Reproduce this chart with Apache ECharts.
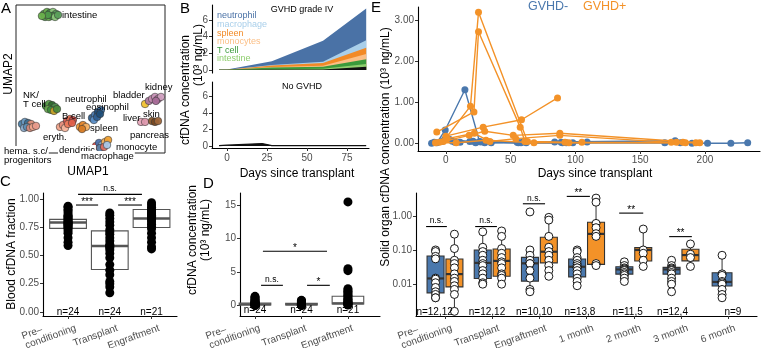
<!DOCTYPE html>
<html><head><meta charset="utf-8">
<script src="https://cdn.jsdelivr.net/npm/echarts@6/dist/echarts.min.js"></script>
<style>html,body{margin:0;padding:0;background:#fff}#c{width:763px;height:348px}</style>
</head><body><div id="c"></div>
<script>
// ================= DATA =================
// Panel A : UMAP clusters (arbitrary UMAP units 0-100)
const umapIntestine = [[18.8,94.0],[20.8,95.3],[22.8,94.6],[24.8,95.3],[26.8,94.0],[19.5,91.9],[22.1,91.9],[24.2,92.6],[26.2,91.9],[28.2,93.3],[21.5,93.3],[17.4,92.6]];
const umapTcell = [[20.1,31.8],[22.1,33.1],[24.2,32.4],[26.2,31.1],[21.5,29.7],[23.5,29.1],[25.5,28.4],[27.5,29.7]];
const umapHema = [[4.0,19.6],[6.0,21.0],[8.1,20.3],[10.1,19.6],[5.4,16.9],[7.4,17.6],[9.4,16.9],[11.4,17.6],[13.4,18.3]];
const umapEryth = [[29.5,17.6],[31.5,18.9],[32.9,16.9]];
const umapBcell = [[34.2,21.6],[36.2,23.0],[38.2,22.3],[34.9,19.6],[37.6,20.3]];
const umapNeutro = [[51.0,23.7],[53.0,25.7],[55.0,27.7],[57.0,29.1],[52.3,22.3],[54.4,24.3],[56.4,26.4]];
const umapSpleen = [[42.9,17.6],[44.9,18.9],[47.0,17.6],[44.3,16.2]];
const umapMyeloid = [[53.7,4.7],[55.7,6.8],[57.7,5.4],[59.7,7.4],[61.8,8.8],[56.4,3.4],[59.1,4.1],[61.1,5.4]];
const umapBladderKidney = [[86.6,33.1],[89.2,35.2],[91.3,36.5],[93.3,37.9],[95.3,36.5],[97.3,37.9],[93.9,35.2]];
const umapLiver = [[83.9,21.0],[86.6,21.0]];
const umapSkin = [[91.3,21.6],[93.3,21.0],[95.3,21.6]];
const umapLabels = ['intestine','NK/','T cell','neutrophil','eosinophil','bladder','kidney','B cell','liver','skin','spleen','eryth.','pancreas','hema. s.c/','progenitors','dendritic','monocyte','macrophage'];

// Panel B : stacked tissue-of-origin cfDNA (10^3 ng/mL)
const bDaysGvhd = [-5, 0, 28, 60, 87];
const bOther      = [0.02, 0.02, 0.05, 0.05, 0.40];
const bIntestine  = [0.005, 0.005, 0.05, 0.10, 0.32];
const bTcell      = [0.005, 0.005, 0.20, 0.25, 0.56];
const bMonocytes  = [0.005, 0.005, 0.05, 0.10, 0.64];
const bSpleen     = [0.005, 0.005, 0.20, 0.35, 0.76];
const bMacrophage = [0.005, 0.005, 0.05, 0.15, 0.90];
const bNeutrophil = [0.02, 0.02, 0.45, 2.50, 3.80];
const bDaysNo = [-5, 0, 22, 28, 60, 87];
const bNoTotal = [0.05, 0.10, 0.30, 0.05, 0.05, 0.05];
const bTicks = [0, 25, 50, 75];
const bYTicks = [0, 2, 4, 6];

// Panel C : blood cfDNA fraction
const cCats = ['Pre–\nconditioning', 'Transplant', 'Engraftment'];
const cPre = [0.94,0.93,0.91,0.90,0.88,0.86,0.85,0.84,0.83,0.82,0.81,0.80,0.79,0.79,0.78,0.77,0.76,0.75,0.74,0.72,0.70,0.66,0.62,0.59];
const cTransplant = [0.88,0.86,0.83,0.80,0.77,0.73,0.71,0.69,0.66,0.63,0.60,0.59,0.58,0.57,0.55,0.52,0.48,0.42,0.37,0.33,0.27,0.25,0.22,0.17];
const cEngraft = [0.97,0.95,0.93,0.91,0.90,0.88,0.87,0.86,0.85,0.84,0.83,0.82,0.80,0.78,0.76,0.74,0.70,0.66,0.62,0.58,0.56];
const cBoxStats = [[0.70,0.742,0.795,0.822,0.94],[0.17,0.377,0.585,0.72,0.88],[0.62,0.75,0.83,0.91,0.97]];
const cN = ['n=24','n=24','n=21'];
const cYTicks = [0, 0.25, 0.5, 0.75, 1];
const cSig = [[1.19,1.72,0.95],[2.20,2.77,0.95],[1.24,2.77,1.045]];
const cSigText = ['***','***','n.s.'];

// Panel D : cfDNA concentration
const dPre = [1.35,1.2,1.0,0.9,0.75,0.6,0.5,0.45,0.4,0.35,0.3,0.28,0.25,0.2,0.18,0.15,0.12,0.1,0.08,0.06,0.05,0.03,0.02,0.01];
const dTransplant = [0.75,0.7,0.6,0.55,0.5,0.45,0.4,0.35,0.3,0.28,0.25,0.22,0.2,0.18,0.15,0.12,0.1,0.08,0.06,0.05,0.04,0.03,0.02,0.01];
const dEngraft = [15.5,5.5,5.2,2.5,2.3,2.1,1.9,1.7,1.5,1.3,1.1,0.9,0.8,0.6,0.5,0.4,0.3,0.2,0.15,0.1,0.05];
const dBoxStats = [[0,0.05,0.15,0.35,0.8],[0,0.05,0.15,0.3,0.75],[0,0.2,0.3,1.35,2.5]];
const dN = ['n=24','n=24','n=21'];
const dYTicks = [0, 5, 10, 15];
const dSig = [[1.13,1.60,3.0],[2.12,2.61,3.0],[1.17,2.55,8.1]];
const dSigText = ['n.s.','*','*'];

// Panel E (top) : longitudinal solid organ cfDNA per patient
const eNegDays = [[-7,-0.5,14.7,26,56,89,181],[-11,3,18.5,30,62,93,169,202,220,233],[-3,7,21,55,84,177,190],[-1,11,27,58,98,109],[-9,5,23,35,60,90]];
const eNegVals = [[0.02,0.33,1.31,0.05,0.02,0.03,0.02],[0.01,0.10,0.05,0.02,0.02,0.02,0.02,0.01,0.01,0.02],[0.05,0.03,0.06,0.03,0.04,0.07,0.01],[0.10,0.03,0.04,0.02,0.02,0.04],[0.03,0.06,0.02,0.02,0.05,0.02]];
const ePosDays = [[-2,19,25.2,63,95,178],[-7,21.7,25.2,57.4,61,92,193],[0,28.8,58.4,86.2],[-5,18,30,52,88,196],[1,22,34,54,88,174,183],[-8,8,31,68,105,185]];
const ePosVals = [[0.05,0.91,3.19,0.05,0.02,0.03],[0.28,0.77,2.72,0.40,0.05,0.03,0.02],[0.18,0.40,0.58,1.11],[0.03,0.20,0.30,0.20,0.25,0.02],[0.12,0.25,0.05,0.12,0.20,0.03,0.03],[0.02,0.02,0.08,0.02,0.03,0.02]];
const eXTicks = [0, 50, 100, 150, 200];
const eYTicks = [0, 1, 2, 3];

// Panel E (bottom) : solid organ cfDNA by timepoint (log scale)
const eCats = ['Pre–\nconditioning','Transplant','Engraftment','1 month','2 month','3 month','6 month'];
const eNegPts = [[0.10,0.09,0.065,0.055,0.015,0.014,0.011,0.008,0.006,0.005,0.004,0.004],
  [0.34,0.12,0.09,0.07,0.05,0.04,0.035,0.025,0.02,0.015,0.011,0.01],
  [1.3,0.1,0.07,0.05,0.04,0.04,0.025,0.015,0.007,0.006],
  [0.1,0.09,0.06,0.05,0.04,0.035,0.03,0.03,0.025,0.02,0.015,0.012,0.009],
  [0.045,0.035,0.03,0.028,0.026,0.025,0.022,0.02,0.018,0.015,0.012],
  [0.05,0.035,0.03,0.028,0.026,0.025,0.022,0.02,0.015,0.012,0.01,0.006],
  [0.07,0.02,0.018,0.012,0.011,0.01,0.007,0.005,0.004]];
const ePosPts = [[0.29,0.11,0.05,0.04,0.03,0.02,0.015,0.012,0.009,0.007,0.005,0.0016],
  [0.36,0.25,0.11,0.08,0.06,0.045,0.04,0.03,0.02,0.018,0.015,0.01],
  [0.9,0.75,0.25,0.12,0.09,0.07,0.05,0.035,0.025,0.017],
  [3.3,2.5,0.6,0.45,0.3,0.25,0.04,0.035],
  [0.41,0.1,0.08,0.05,0.033],
  [0.15,0.075,0.06,0.033],
  []];
const eNegBox = [[0.0038,0.00556,0.0147,0.0667,0.105],[0.0105,0.0147,0.042,0.1,0.345],[0.0056,0.0123,0.0407,0.0609,0.1],[0.0083,0.0163,0.0323,0.0545,0.1],[0.0116,0.0197,0.027,0.0323,0.045],[0.0059,0.0197,0.027,0.0309,0.053],[0.0038,0.0088,0.0116,0.0215,0.071]];
const ePosBox = [[0.0016,0.0083,0.0197,0.0545,0.29],[0.0098,0.017,0.048,0.107,0.36],[0.017,0.042,0.089,0.236,0.95],[0.037,0.038,0.296,0.65,3.3],[0.0323,0.0475,0.1,0.117,0.41],[0.033,0.048,0.071,0.105,0.15],null];
const eN = ['n=12,12','n=12,12','n=10,10','n=13,8','n=11,5','n=12,4','n=9'];
const eNPos = [0.78, 1.89, 2.89, 3.86, 4.87, 5.82, 7.1];
const eLogTicks = [0.01, 0.1, 1];
const eSig = [[0.60,1.04,0.485],[1.64,2.10,0.485],[2.65,3.12,2.25],[3.58,4.07,3.7],[4.69,5.2,1.2],[5.75,6.23,0.246]];
const eSigText = ['n.s.','n.s.','n.s.','**','**','**'];

// ================= STYLE =================
const F = '"Liberation Sans", Arial, Helvetica, sans-serif';
const BLUE = '#4a78ad', ORANGE = '#f39228';
const GRAY = '#4d4d4d';

const chart = echarts.init(document.getElementById('c'), null, {renderer: 'canvas'});
const mctx = document.createElement('canvas').getContext('2d');
function textW(s, size) { mctx.font = size + 'px ' + F; return mctx.measureText(s).width; }

function vAxis(grid, o) {
  const base = {
    type: 'value', gridIndex: grid, splitLine: {show: false},
    axisLine: {show: true, onZero: false, lineStyle: {color: '#000', width: 1.1}},
    axisTick: {show: true, length: 3, lineStyle: {color: '#333', width: 1}},
    axisLabel: {color: GRAY, fontSize: 10, fontFamily: F, margin: 4, showMinLabel: true, showMaxLabel: true}
  };
  const r = Object.assign(base, o);
  if (o.ticks) {
    r.axisTick = Object.assign({}, base.axisTick, {customValues: o.ticks});
    r.axisLabel = Object.assign({}, base.axisLabel, {customValues: o.ticks}, o.labelExtra || {});
    delete r.ticks; delete r.labelExtra;
  }
  return r;
}

// rotated category labels (20°): last line's top-right at the tick, earlier lines stacked above, left-aligned
function catLabelSeries(xi, yi, cats, yBottom, dx, dy) {
  const th = 20 * Math.PI / 180, LH = 10;
  return {
    type: 'custom', xAxisIndex: xi, yAxisIndex: yi, data: cats.map((c, i) => [i + 1, yBottom]), z: 6, silent: true, clip: false,
    encode: {x: 0, y: 1},
    renderItem: function (params, api) {
      const p = api.coord([api.value(0), api.value(1)]);
      const lines = cats[params.dataIndex].split('\n');
      const L = lines.length;
      const wLast = textW(lines[L - 1], 10);
      const ax = p[0] + dx, ay = p[1] + dy;
      const sx = ax - wLast * Math.cos(th), sy = ay + wLast * Math.sin(th);
      return {type: 'group', children: lines.map((s, k) => ({
        type: 'text', x: sx + (k - L + 1) * LH * Math.sin(th), y: sy + (k - L + 1) * LH * Math.cos(th), rotation: th,
        style: {text: s, fill: GRAY, fontSize: 10, fontFamily: F, align: 'left', verticalAlign: 'top'}
      }))};
    }
  };
}

function boxSeries(xi, yi, items, fills, stroke, mw) {
  return {
    type: 'custom', xAxisIndex: xi, yAxisIndex: yi, data: items, z: 2, silent: true,
    encode: {x: 0, y: [1, 5]},
    renderItem: function (params, api) {
      const x = api.value(0), hw = api.value(7), g = api.value(6);
      const pTL = api.coord([x - hw, api.value(4)]);
      const pBR = api.coord([x + hw, api.value(2)]);
      const pMin = api.coord([x, api.value(1)]);
      const pMax = api.coord([x, api.value(5)]);
      const pMed = api.coord([x, api.value(3)]);
      const cx = pMin[0];
      return {type: 'group', children: [
        {type: 'line', shape: {x1: cx, y1: pMax[1], x2: cx, y2: pTL[1]}, style: {stroke: stroke, lineWidth: 1}},
        {type: 'line', shape: {x1: cx, y1: pBR[1], x2: cx, y2: pMin[1]}, style: {stroke: stroke, lineWidth: 1}},
        {type: 'rect', shape: {x: pTL[0], y: pTL[1], width: pBR[0] - pTL[0], height: pBR[1] - pTL[1]}, style: {fill: fills[g], stroke: stroke, lineWidth: 1.1}},
        {type: 'line', shape: {x1: pTL[0], y1: pMed[1], x2: pBR[0], y2: pMed[1]}, style: {stroke: stroke, lineWidth: mw}}
      ]};
    }
  };
}

function textSeries(xi, yi, pts, texts, size) {
  return {
    type: 'custom', xAxisIndex: xi, yAxisIndex: yi, data: pts, z: 6, silent: true, encode: {x: 0, y: 1},
    renderItem: function (params, api) {
      const p = api.coord([api.value(0), api.value(1)]);
      return {type: 'text', x: p[0], y: p[1], style: {text: texts[params.dataIndex], fill: '#000', fontSize: size, fontFamily: F, align: 'center', verticalAlign: 'middle'}};
    }
  };
}

function sigSeries(xi, yi, items, texts) {
  return {
    type: 'custom', xAxisIndex: xi, yAxisIndex: yi, data: items, z: 6, silent: true, encode: {x: [0, 1], y: 2},
    renderItem: function (params, api) {
      const a = api.coord([api.value(0), api.value(2)]);
      const b = api.coord([api.value(1), api.value(2)]);
      const t = texts[params.dataIndex];
      const star = t.indexOf('*') >= 0;
      return {type: 'group', children: [
        {type: 'line', shape: {x1: a[0], y1: a[1], x2: b[0], y2: b[1]}, style: {stroke: '#000', lineWidth: 1.1}},
        {type: 'text', x: (a[0] + b[0]) / 2, y: a[1] + (star ? 2 : -1), style: {text: t, fill: '#000', fontSize: star ? 10 : 8.5, fontFamily: F, align: 'center', verticalAlign: 'bottom'}}
      ]};
    }
  };
}

function scatter(xi, yi, data, color, border, size) {
  return {type: 'scatter', xAxisIndex: xi, yAxisIndex: yi, data: data, symbolSize: size, z: 4, silent: true,
    itemStyle: {color: color, borderColor: border, borderWidth: border ? 0.9 : 0, opacity: 1}};
}

// ================= GRIDS =================
const grids = [
  {left: 16, top: 5, width: 149, height: 148, show: true, borderColor: '#222', borderWidth: 1, backgroundColor: 'transparent'}, // A
  {left: 212, top: 5, width: 157, height: 68},   // B top
  {left: 212, top: 82, width: 157, height: 66},  // B bottom
  {left: 43, top: 193, width: 134, height: 123}, // C
  {left: 240, top: 193, width: 140, height: 123},// D
  {left: 418, top: 7, width: 342, height: 144},  // E top
  {left: 416, top: 193, width: 341, height: 123} // E bottom
];
const C_YMIN = -0.037, D_YMIN = -1.6, E_YMIN = 0.00117;

const xAxes = [
  {type: 'value', gridIndex: 0, min: 0, max: 100, show: false},
  vAxis(1, {min: -9.4, max: 88.75, show: false}),
  vAxis(2, {min: -9.4, max: 88.75, ticks: bTicks, labelExtra: {margin: 5}}),
  vAxis(3, {min: 0.4, max: 3.61, ticks: [1, 2, 3], labelExtra: {show: false}}),
  vAxis(4, {min: 0.677, max: 3.69, ticks: [1, 2, 3], labelExtra: {show: false}}),
  vAxis(5, {min: -21.5, max: 242.5, ticks: eXTicks, labelExtra: {margin: 4}}),
  vAxis(6, {min: 0.386, max: 7.61, ticks: [1, 2, 3, 4, 5, 6, 7], labelExtra: {show: false}})
];
const yAxes = [
  {type: 'value', gridIndex: 0, min: 0, max: 100, show: false},
  vAxis(1, {min: -0.36, max: 7.8, ticks: bYTicks}),
  vAxis(2, {min: -0.24, max: 7.76, ticks: bYTicks}),
  vAxis(3, {min: C_YMIN, max: 1.057, ticks: cYTicks, labelExtra: {formatter: v => v.toFixed(2)}}),
  vAxis(4, {min: D_YMIN, max: 16.84, ticks: dYTicks}),
  vAxis(5, {min: -0.18, max: 3.32, ticks: eYTicks, labelExtra: {formatter: v => v.toFixed(2)}}),
  vAxis(6, {type: 'log', logBase: 10, min: E_YMIN, max: 4.65, ticks: eLogTicks, labelExtra: {formatter: v => Number(v).toFixed(2)}})
];

// ================= SERIES =================
const series = [];
// A
const umapGroups = [
  [umapIntestine, ['#4f9a4a','#6ab04c','#3e8e41','#8cc87a','#5aa05a']],
  [umapTcell, ['#3a7d3a','#5a9e4a','#2e6b2e','#4f8f4f','#6aa84f','#3c8f3c','#c9a227','#4a8a3a']],
  [umapHema, ['#4a7fa8','#6d9bc3','#3d6f91','#e0907a','#8aa9c9','#5e8fb5','#d98b7c','#f0a58c','#e89a8a']],
  [umapEryth, ['#f2a48a','#e88f7d','#f7b59c']],
  [umapBcell, ['#d9544e','#e06a4f','#c94a44','#ef7b5c','#e0604a']],
  [umapNeutro, ['#2f5f8f','#4a7ab0','#1e4a78','#3f72a8','#5b8fc8','#2c5d91','#1f4e79']],
  [umapSpleen, ['#f29a38','#e8882a','#f5b060','#d97b22']],
  [umapMyeloid, ['#d9534f','#4c72b0','#8fb3d9','#f4b05c','#f0a030','#5b7fa6','#e07060','#a8c8e8']],
  [umapBladderKidney, ['#f1c232','#b07aa0','#c48bb0','#c994b8','#b97aa5','#d0a0c0','#a86c98']],
  [umapLiver, ['#e6a5b8','#dd98ad']],
  [umapSkin, ['#8b5a2b','#7a4a22','#a0673a']]
];
umapGroups.forEach(g => {
  series.push({type: 'scatter', xAxisIndex: 0, yAxisIndex: 0, symbolSize: 7.5, silent: true,
    data: g[0].map((p, i) => ({value: p, itemStyle: {color: g[1][i % g[1].length]}})),
    itemStyle: {borderColor: '#333', borderWidth: 0.6, opacity: 0.95}});
});

// B : stacked layers (bottom -> top); drawn top-first as cumulative areas down to zero
const bLayers = [
  [bOther, '#111111'], [bIntestine, '#8fce6e'], [bTcell, '#3b9a3b'],
  [bMonocytes, '#fbbf86'], [bSpleen, '#f28a26'], [bMacrophage, '#a9cfea'], [bNeutrophil, '#4a72a6']
];
const bCum = [];
bLayers.forEach((l, k) => bCum.push(l[0].map((v, i) => v + (k ? bCum[k - 1][i] : 0))));
for (let k = bLayers.length - 1; k >= 0; k--) {
  series.push({type: 'line', xAxisIndex: 1, yAxisIndex: 1, showSymbol: false, silent: true, z: 2,
    data: bDaysGvhd.map((d, i) => [d, bCum[k][i]]), lineStyle: {width: 0, color: bLayers[k][1]},
    areaStyle: {color: bLayers[k][1], opacity: 1, origin: 0}, itemStyle: {color: bLayers[k][1]}});
}
series.push({type: 'line', xAxisIndex: 2, yAxisIndex: 2, showSymbol: false, silent: true,
  data: bDaysNo.map((d, i) => [d, bNoTotal[i]]), lineStyle: {width: 1.2, color: '#111'}, areaStyle: {color: '#111', opacity: 1, origin: 0}});

// C
const cGroups = [cPre, cTransplant, cEngraft];
series.push(boxSeries(3, 3, cBoxStats.map((s, i) => [i + 1, s[0], s[1], s[2], s[3], s[4], 0, 0.44]), ['#ffffff'], '#555555', 2.4));
cGroups.forEach((g, i) => series.push(scatter(3, 3, g.map(v => [i + 1, v]), '#000', null, 9)));
series.push(textSeries(3, 3, [[1, 0], [2, 0], [3, 0]], cN, 10));
series.push(sigSeries(3, 3, cSig, cSigText));
series.push(catLabelSeries(3, 3, cCats, C_YMIN, 6, 7));

// D
const dGroups = [dPre, dTransplant, dEngraft];
series.push(boxSeries(4, 4, dBoxStats.map((s, i) => [i + 1, s[0], s[1], s[2], s[3], s[4], 0, 0.34]), ['#ffffff'], '#555555', 2.4));
dGroups.forEach((g, i) => series.push(scatter(4, 4, g.map(v => [i + 1, v]), '#000', null, 9)));
series.push(textSeries(4, 4, [[1, -0.8], [2, -0.8], [3, -0.8]], dN, 10));
series.push(sigSeries(4, 4, dSig, dSigText));
series.push(catLabelSeries(4, 4, cCats, D_YMIN, 3, 7));

// E top
eNegDays.forEach((ds, k) => series.push({type: 'line', xAxisIndex: 5, yAxisIndex: 5, silent: true, symbol: 'circle', symbolSize: 7, showSymbol: true, z: 3,
  data: ds.map((d, i) => [d, eNegVals[k][i]]), lineStyle: {width: 1.4, color: BLUE}, itemStyle: {color: BLUE}}));
ePosDays.forEach((ds, k) => series.push({type: 'line', xAxisIndex: 5, yAxisIndex: 5, silent: true, symbol: 'circle', symbolSize: 7, showSymbol: true, z: 4,
  data: ds.map((d, i) => [d, ePosVals[k][i]]), lineStyle: {width: 1.4, color: ORANGE}, itemStyle: {color: ORANGE}}));

// E bottom
const eBoxItems = [];
eNegBox.forEach((s, i) => { if (s) eBoxItems.push([i + 1 + (ePosBox[i] ? -0.2 : -0.13), s[0], s[1], s[2], s[3], s[4], 0, ePosBox[i] ? 0.18 : 0.21]); });
ePosBox.forEach((s, i) => { if (s) eBoxItems.push([i + 1.2, s[0], s[1], s[2], s[3], s[4], 1, 0.18]); });
series.push(boxSeries(6, 6, eBoxItems, [BLUE, ORANGE], '#333333', 2.2));
const eDots = [];
eNegPts.forEach((g, i) => g.forEach(v => eDots.push([i + 1 + (ePosPts[i].length ? -0.2 : -0.13), v])));
ePosPts.forEach((g, i) => g.forEach(v => eDots.push([i + 1.2, v])));
series.push(scatter(6, 6, eDots, '#ffffff', '#000', 8));
series.push(textSeries(6, 6, eNPos.map(x => [x, 0.0015]), eN, 10));
series.push(sigSeries(6, 6, eSig, eSigText));
series.push(catLabelSeries(6, 6, eCats, E_YMIN, 5, 7));

// ================= TEXT =================
function txt(t, x, y, o) {
  return Object.assign({type: 'text', x: x, y: y, z: 10, silent: true,
    style: Object.assign({text: t, fill: '#000', fontSize: 12, fontFamily: F, align: 'left', verticalAlign: 'middle'}, o || {})});
}
function rtxt(t, x, y, o) {
  const e = txt(t, x, y, Object.assign({align: 'center'}, o || {}));
  e.rotation = Math.PI / 2;
  return e;
}
const umapPos = [[62,15],[23,95],[23,104],[65,99],[86,107],[113,95],[145,87],[62,116],[123,118],[143,114],[90,128],[43,137],[130,135],[3,151],[3,160],[58,150],[115,147],[80,156]];
const whiteBg = {'hema. s.c/':1,'progenitors':1,'dendritic':1,'monocyte':1,'macrophage':1};
const graphics = [];
umapLabels.forEach((t, i) => graphics.push(txt(t, umapPos[i][0], umapPos[i][1],
  Object.assign({fontSize: 9.5}, whiteBg[t] ? {backgroundColor: '#fff', padding: [0, 1]} : {}))));
graphics.push(txt('UMAP1', 88, 172, {align: 'center', fontSize: 12}));
graphics.push(rtxt('UMAP2', 9, 74, {fontSize: 12}));
// Panel letters
[['A', 1, 9], ['B', 180, 9], ['C', 0, 182], ['D', 203, 184], ['E', 371, 8]].forEach(p => graphics.push(txt(p[0], p[1], p[2], {fontSize: 15})));
// B texts
graphics.push(txt('GVHD grade IV', 302, 10, {align: 'center', fontSize: 9}));
graphics.push(txt('No GVHD', 302, 87, {align: 'center', fontSize: 9}));
[['neutrophil', '#4a72a6'], ['macrophage', '#a9cfea'], ['spleen', '#f28a26'], ['monocytes', '#fbbf86'], ['T cell', '#3b9a3b'], ['intestine', '#8fce6e']]
  .forEach((p, i) => graphics.push(txt(p[0], 217, 16 + i * 8.6, {fill: p[1], fontSize: 9})));
graphics.push(txt('Days since transplant', 297, 174, {align: 'center'}));
graphics.push(rtxt('cfDNA concentration', 186, 90));
graphics.push(rtxt('(10³ ng/mL)', 199, 55));
// C / D titles
graphics.push(rtxt('Blood cfDNA fraction', 12, 254));
graphics.push(rtxt('cfDNA concentration', 193, 240));
graphics.push(rtxt('(10³ ng/mL)', 206, 230));
// E
graphics.push(txt('GVHD-', 528, 7, {fill: BLUE, fontSize: 12.5}));
graphics.push(txt('GVHD+', 583, 7, {fill: ORANGE, fontSize: 12.5}));
graphics.push(txt('Days since transplant', 595, 174, {align: 'center'}));
graphics.push(rtxt('Solid organ cfDNA concentration (10³ ng/mL)', 386, 147));

chart.setOption({
  animation: false,
  grid: grids,
  xAxis: xAxes,
  yAxis: yAxes,
  series: series,
  graphic: graphics
});
</script></body></html>
